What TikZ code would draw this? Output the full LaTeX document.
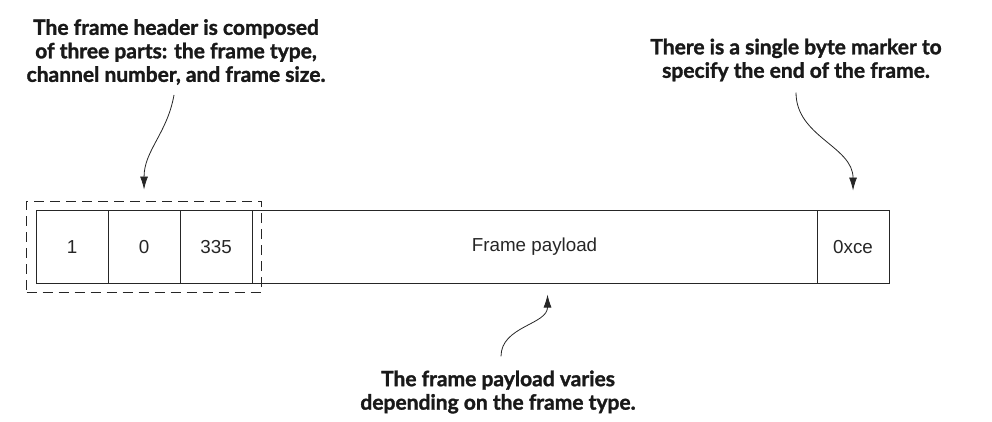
\documentclass[tikz,border=0pt]{standalone}
\usepackage{fontspec}
\setmainfont{Liberation Sans}
\newfontfamily\notefont[BoldFeatures={FakeBold=1.5}]{Lato}
\usetikzlibrary{matrix,arrows.meta,fit}

\tikzset{
  cell/.style={draw=black!85, line width=1pt, minimum height=73pt, minimum width=72pt,
    inner sep=0pt, anchor=center, text=black!85, font=\fontsize{18.8}{21}\selectfont},
  note/.style={align=center, inner sep=0pt, text=black!90,
    font=\notefont\bfseries\fontsize{21}{23.5}\selectfont},
  callout/.style={-{Latex[length=13pt,width=8pt]}, line width=0.8pt, color=black!85},
}

\begin{document}
\begin{tikzpicture}[x=1pt,y=-1pt]
  \useasboundingbox (0,0) rectangle (992,421);
  % the frame
  \matrix (f) [matrix of nodes, nodes=cell, anchor=north west, column sep=-1pt,
    column 4/.style={nodes={minimum width=565pt}}] at (32,206)
  {
    1 & 0 & 335 & Frame payload & 0xce \\
  };
  \node[fit=(f-1-1)(f-1-3), draw=black!85, line width=1pt, dash pattern=on 10pt off 6pt,
    inner xsep=9pt, inner ysep=8.5pt] (hdr) {};
  % notes
  \node[note] (hdrnote) at (176,52) {The frame header is composed\\of three parts: the frame type,\\channel number, and frame size.};
  \node[note] (endnote) at (796,60) {There is a single byte marker to\\specify the end of the frame.};
  \node[note] (paynote) at (498,392) {The frame payload varies\\depending on the frame type.};
  \path[callout]
    ([xshift=-2pt,yshift=-10pt]hdrnote.south) edge[out=-100,in=90] ([yshift=11pt]hdr.north)
    ([yshift=-11pt]endnote.south) edge[out=-90,in=90] ([yshift=19pt]f-1-5.north)
    ([xshift=3pt,yshift=14pt]paynote.north) edge[out=90,in=-90] ([xshift=13pt,yshift=-11pt]f-1-4.south);
\end{tikzpicture}
\end{document}
